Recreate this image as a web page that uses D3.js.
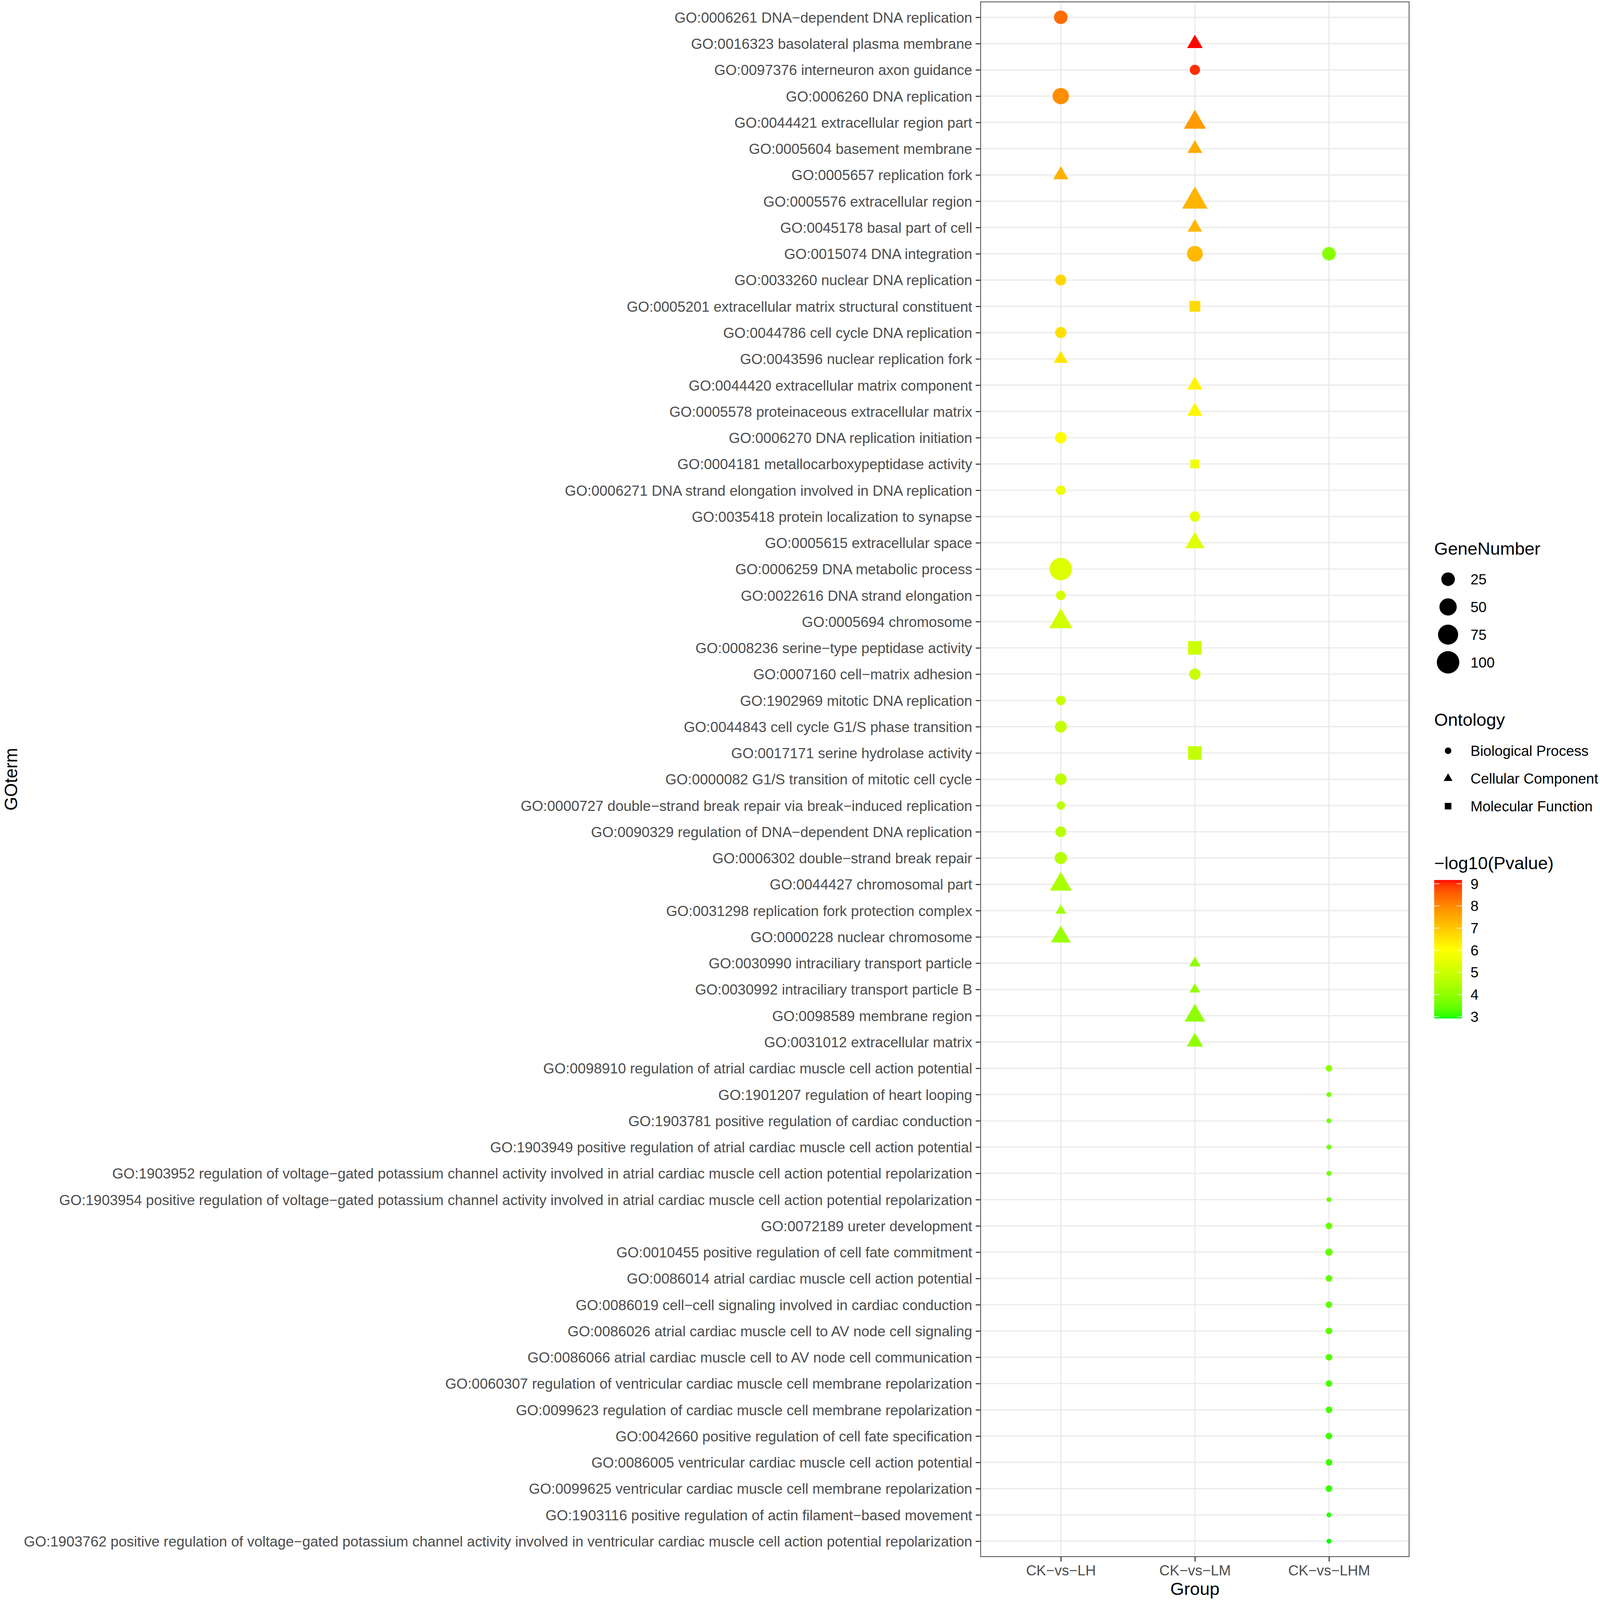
<!DOCTYPE html>
<html><head><meta charset="utf-8">
<script src="https://cdn.jsdelivr.net/npm/d3@7"></script>
<style>
html,body{margin:0;padding:0;background:#fff;width:100%;height:100%;overflow:hidden}
svg{display:block;width:100vw;height:100vh}
text{font-family:"Liberation Sans",Arial,Helvetica,sans-serif}
</style>
</head><body>
<svg id="chart" viewBox="0 0 4139 4160" preserveAspectRatio="none"></svg>
<script>
// ---------------- data ----------------
const groups = ["CK−vs−LH", "CK−vs−LM", "CK−vs−LHM"];

const terms = [
"GO:0006261 DNA−dependent DNA replication",
"GO:0016323 basolateral plasma membrane",
"GO:0097376 interneuron axon guidance",
"GO:0006260 DNA replication",
"GO:0044421 extracellular region part",
"GO:0005604 basement membrane",
"GO:0005657 replication fork",
"GO:0005576 extracellular region",
"GO:0045178 basal part of cell",
"GO:0015074 DNA integration",
"GO:0033260 nuclear DNA replication",
"GO:0005201 extracellular matrix structural constituent",
"GO:0044786 cell cycle DNA replication",
"GO:0043596 nuclear replication fork",
"GO:0044420 extracellular matrix component",
"GO:0005578 proteinaceous extracellular matrix",
"GO:0006270 DNA replication initiation",
"GO:0004181 metallocarboxypeptidase activity",
"GO:0006271 DNA strand elongation involved in DNA replication",
"GO:0035418 protein localization to synapse",
"GO:0005615 extracellular space",
"GO:0006259 DNA metabolic process",
"GO:0022616 DNA strand elongation",
"GO:0005694 chromosome",
"GO:0008236 serine−type peptidase activity",
"GO:0007160 cell−matrix adhesion",
"GO:1902969 mitotic DNA replication",
"GO:0044843 cell cycle G1/S phase transition",
"GO:0017171 serine hydrolase activity",
"GO:0000082 G1/S transition of mitotic cell cycle",
"GO:0000727 double−strand break repair via break−induced replication",
"GO:0090329 regulation of DNA−dependent DNA replication",
"GO:0006302 double−strand break repair",
"GO:0044427 chromosomal part",
"GO:0031298 replication fork protection complex",
"GO:0000228 nuclear chromosome",
"GO:0030990 intraciliary transport particle",
"GO:0030992 intraciliary transport particle B",
"GO:0098589 membrane region",
"GO:0031012 extracellular matrix",
"GO:0098910 regulation of atrial cardiac muscle cell action potential",
"GO:1901207 regulation of heart looping",
"GO:1903781 positive regulation of cardiac conduction",
"GO:1903949 positive regulation of atrial cardiac muscle cell action potential",
"GO:1903952 regulation of voltage−gated potassium channel activity involved in atrial cardiac muscle cell action potential repolarization",
"GO:1903954 positive regulation of voltage−gated potassium channel activity involved in atrial cardiac muscle cell action potential repolarization",
"GO:0072189 ureter development",
"GO:0010455 positive regulation of cell fate commitment",
"GO:0086014 atrial cardiac muscle cell action potential",
"GO:0086019 cell−cell signaling involved in cardiac conduction",
"GO:0086026 atrial cardiac muscle cell to AV node cell signaling",
"GO:0086066 atrial cardiac muscle cell to AV node cell communication",
"GO:0060307 regulation of ventricular cardiac muscle cell membrane repolarization",
"GO:0099623 regulation of cardiac muscle cell membrane repolarization",
"GO:0042660 positive regulation of cell fate specification",
"GO:0086005 ventricular cardiac muscle cell action potential",
"GO:0099625 ventricular cardiac muscle cell membrane repolarization",
"GO:1903116 positive regulation of actin filament−based movement",
"GO:1903762 positive regulation of voltage−gated potassium channel activity involved in ventricular cardiac muscle cell action potential repolarization"
];

const ontologies = ["Biological Process", "Cellular Component", "Molecular Function"];

// ontology of each term (same order as terms): BP / CC / MF
const termOntology = [
"BP","CC","BP","BP","CC","CC","CC","CC","CC","BP",
"BP","MF","BP","CC","CC","CC","BP","MF","BP","BP",
"CC","BP","BP","CC","MF","BP","BP","BP","MF","BP",
"BP","BP","BP","CC","CC","CC","CC","CC","CC","CC",
"BP","BP","BP","BP","BP","BP","BP","BP","BP","BP",
"BP","BP","BP","BP","BP","BP","BP","BP","BP"
];

// points: term id, group, gene number, -log10(Pvalue)
const pointGO = [
"GO:0006261","GO:0016323","GO:0097376","GO:0006260","GO:0044421","GO:0005604","GO:0005657","GO:0005576","GO:0045178","GO:0015074",
"GO:0015074","GO:0033260","GO:0005201","GO:0044786","GO:0043596","GO:0044420","GO:0005578","GO:0006270","GO:0004181","GO:0006271",
"GO:0035418","GO:0005615","GO:0006259","GO:0022616","GO:0005694","GO:0008236","GO:0007160","GO:1902969","GO:0044843","GO:0017171",
"GO:0000082","GO:0000727","GO:0090329","GO:0006302","GO:0044427","GO:0031298","GO:0000228","GO:0030990","GO:0030992","GO:0098589",
"GO:0031012","GO:0098910","GO:1901207","GO:1903781","GO:1903949","GO:1903952","GO:1903954","GO:0072189","GO:0010455","GO:0086014",
"GO:0086019","GO:0086026","GO:0086066","GO:0060307","GO:0099623","GO:0042660","GO:0086005","GO:0099625","GO:1903116","GO:1903762"
];
const pointGroup = [
"CK−vs−LH","CK−vs−LM","CK−vs−LM","CK−vs−LH","CK−vs−LM","CK−vs−LM","CK−vs−LH","CK−vs−LM","CK−vs−LM","CK−vs−LM",
"CK−vs−LHM","CK−vs−LH","CK−vs−LM","CK−vs−LH","CK−vs−LH","CK−vs−LM","CK−vs−LM","CK−vs−LH","CK−vs−LM","CK−vs−LH",
"CK−vs−LM","CK−vs−LM","CK−vs−LH","CK−vs−LH","CK−vs−LH","CK−vs−LM","CK−vs−LM","CK−vs−LH","CK−vs−LH","CK−vs−LM",
"CK−vs−LH","CK−vs−LH","CK−vs−LH","CK−vs−LH","CK−vs−LH","CK−vs−LH","CK−vs−LH","CK−vs−LM","CK−vs−LM","CK−vs−LM",
"CK−vs−LM","CK−vs−LHM","CK−vs−LHM","CK−vs−LHM","CK−vs−LHM","CK−vs−LHM","CK−vs−LHM","CK−vs−LHM","CK−vs−LHM","CK−vs−LHM",
"CK−vs−LHM","CK−vs−LHM","CK−vs−LHM","CK−vs−LHM","CK−vs−LHM","CK−vs−LHM","CK−vs−LHM","CK−vs−LHM","CK−vs−LHM","CK−vs−LHM"
];
const geneNumber = [
25,15,10,43,43,13,14,64,12,39,
25,13,12,14,11,14,14,15,6,8,
11,28,100,8,49,25,14,8,16,25,
15,5,12,18,42,4,31,5,4,35,
17,2,1,1,1,1,1,2,3,2,
2,2,2,2,2,2,2,2,1,1
];
const negLog10P = [
8.39,9.17,9.00,7.92,7.73,7.46,7.36,7.31,7.28,7.23,
3.88,6.72,6.66,6.60,6.47,6.21,6.18,6.08,5.74,5.70,
5.54,5.42,5.35,5.20,5.14,5.03,4.96,4.93,4.90,4.88,
4.79,4.72,4.66,4.60,4.41,4.26,4.16,4.04,4.02,4.00,
3.99,3.97,3.66,3.63,3.60,3.57,3.56,3.49,3.48,3.43,
3.39,3.35,3.29,3.22,3.19,3.16,3.12,3.08,3.02,2.92
];

const sizeBreaks = [25, 50, 75, 100];
const colorTicks = [3, 4, 5, 6, 7, 8, 9];

// ---------------- layout ----------------
const svg = d3.select("#chart");
const FONT_S = 37.4, FONT_L = 45.8;
const panel = {left: 2536, right: 3646, top: 4, bottom: 4048};

const x = d3.scalePoint().domain(groups).range([panel.left, panel.right]).padding(0.6);
const y = d3.scalePoint().domain(terms).range([panel.top, panel.bottom]).padding(0.6);

const termById = new Map(terms.map((t, i) => [t.split(" ")[0], i]));
const points = pointGO.map((id, i) => {
  const ti = termById.get(id);
  return {term: terms[ti], ont: termOntology[ti], group: pointGroup[i], n: geneNumber[i], p: negLog10P[i]};
});

const [pMin, pMax] = d3.extent(negLog10P);
const color = d3.scaleLinear()
  .domain([pMin, (pMin + pMax) / 2, pMax])
  .range(["#00FF00", "#FFFF00", "#FF0000"])
  .interpolate(d3.interpolateLab);

const nMin = d3.min(geneNumber), nMax = d3.max(geneNumber);
const sizeScale = d3.scaleSqrt().domain([0, nMax - nMin]).range([0, 22.7]);
const radius = n => 6.4 + sizeScale(n - nMin);

function drawShape(g, type, cx, cy, R, fill) {
  if (type === "BP") {
    g.append("circle").attr("cx", cx).attr("cy", cy).attr("r", R).attr("fill", fill);
  } else if (type === "CC") {
    const r = 1.5551 * R, xc = 1.3468 * R, yc = 0.7776 * R;
    g.append("path")
      .attr("d", `M${cx},${cy - r}L${cx + xc},${cy + yc}L${cx - xc},${cy + yc}Z`)
      .attr("fill", fill);
  } else {
    g.append("rect").attr("x", cx - R).attr("y", cy - R)
      .attr("width", 2 * R).attr("height", 2 * R).attr("fill", fill);
  }
}

// grid
const grid = svg.append("g");
grid.selectAll("line.h").data(terms).join("line")
  .attr("x1", panel.left).attr("x2", panel.right)
  .attr("y1", d => y(d)).attr("y2", d => y(d))
  .attr("stroke", "#EBEBEB").attr("stroke-width", 3.2);
grid.selectAll("line.v").data(groups).join("line")
  .attr("y1", panel.top).attr("y2", panel.bottom)
  .attr("x1", d => x(d)).attr("x2", d => x(d))
  .attr("stroke", "#EBEBEB").attr("stroke-width", 3.2);

// points
const pg = svg.append("g");
points.forEach(d => drawShape(pg, d.ont, x(d.group), y(d.term), radius(d.n), color(d.p)));

// border
svg.append("rect")
  .attr("x", panel.left + 0.8).attr("y", panel.top + 0.8)
  .attr("width", panel.right - panel.left - 1.6).attr("height", panel.bottom - panel.top - 1.6)
  .attr("fill", "none").attr("stroke", "#333333").attr("stroke-width", 1.8);

// axes
const yAxis = svg.append("g").attr("transform", `translate(${panel.left},0)`)
  .call(d3.axisLeft(y).tickSize(12).tickPadding(9));
const xAxis = svg.append("g").attr("transform", `translate(0,${panel.bottom})`)
  .call(d3.axisBottom(x).tickSize(12).tickPadding(9));
[yAxis, xAxis].forEach(a => {
  a.select(".domain").remove();
  a.selectAll(".tick line").attr("stroke", "#333333").attr("stroke-width", 2.7);
  a.selectAll(".tick text").attr("fill", "#4D4D4D").style("font-size", FONT_S + "px")
    .style("font-family", '"Liberation Sans",Arial,sans-serif');
});
yAxis.selectAll(".tick text").attr("dy", "0.355em");
xAxis.selectAll(".tick text").attr("dy", "0.71em");

// axis titles
svg.append("text").attr("x", (panel.left + panel.right) / 2).attr("y", 4147)
  .attr("text-anchor", "middle").style("font-size", FONT_L + "px").attr("fill", "#000").text("Group");
svg.append("text").attr("transform", `translate(44,${(panel.top + panel.bottom) / 2}) rotate(-90)`)
  .attr("text-anchor", "middle").style("font-size", FONT_L + "px").attr("fill", "#000").text("GOterm");

// ---------------- legends ----------------
const LX = 3710, KEY = 72, LABX = 3804;
const lg = svg.append("g");

// GeneNumber
lg.append("text").attr("x", LX).attr("y", 1442).style("font-size", FONT_L + "px").text("GeneNumber");
sizeBreaks.forEach((b, i) => {
  const cy = 1506 + i * KEY;
  drawShape(lg, "BP", LX + KEY / 2, cy, radius(b), "#000");
  lg.append("text").attr("x", LABX).attr("y", cy).attr("dy", "0.355em")
    .style("font-size", FONT_S + "px").text(b);
});

// Ontology
lg.append("text").attr("x", LX).attr("y", 1887).style("font-size", FONT_L + "px").text("Ontology");
["BP", "CC", "MF"].forEach((o, i) => {
  const cy = 1952 + i * KEY;
  drawShape(lg, o, LX + KEY / 2, cy, 8.5, "#000");
  lg.append("text").attr("x", LABX).attr("y", cy).attr("dy", "0.355em")
    .style("font-size", FONT_S + "px").text(ontologies[i]);
});

// colour bar
lg.append("text").attr("x", LX).attr("y", 2260).style("font-size", FONT_L + "px").text("−log10(Pvalue)");
const barTop = 2288, barH = 5 * KEY, barW = KEY;
const cb = d3.scaleLinear().domain([pMin, pMax]).range([barTop + barH, barTop]);
const defs = svg.append("defs");
const grad = defs.append("linearGradient").attr("id", "cbar")
  .attr("x1", 0).attr("y1", 1).attr("x2", 0).attr("y2", 0);
d3.range(0, 1.0001, 0.02).forEach(t => {
  grad.append("stop").attr("offset", t).attr("stop-color", color(pMin + t * (pMax - pMin)));
});
lg.append("rect").attr("x", LX).attr("y", barTop).attr("width", barW).attr("height", barH)
  .attr("fill", "url(#cbar)");
colorTicks.forEach(v => {
  const yy = cb(v);
  lg.append("line").attr("x1", LX).attr("x2", LX + 14).attr("y1", yy).attr("y2", yy)
    .attr("stroke", "#fff").attr("stroke-width", 1.5);
  lg.append("line").attr("x1", LX + barW - 14).attr("x2", LX + barW).attr("y1", yy).attr("y2", yy)
    .attr("stroke", "#fff").attr("stroke-width", 1.5);
  lg.append("text").attr("x", LABX).attr("y", yy).attr("dy", "0.355em")
    .style("font-size", FONT_S + "px").text(v);
});
</script>
</body></html>
